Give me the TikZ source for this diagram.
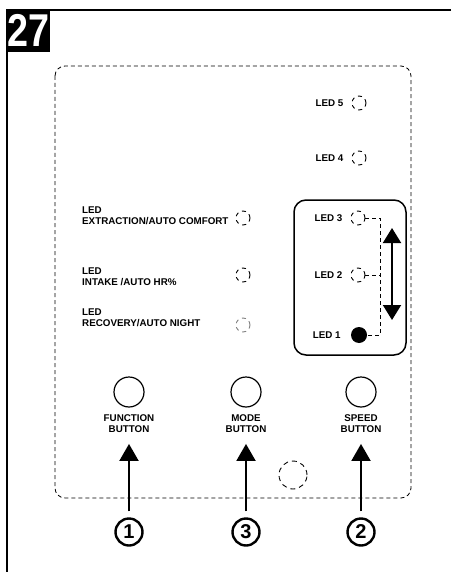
\documentclass[tikz,border=0pt]{standalone}
\usepackage{fontspec}
\setmainfont{Liberation Sans}
\usetikzlibrary{shapes,arrows,arrows.meta,positioning}

\begin{document}
\begin{tikzpicture}[x=1pt,y=-1pt,
	lbl/.style={font=\fontsize{9.8}{11}\selectfont\bfseries, inner sep=0pt},
	led/.style={shape=circle, draw, dash pattern=on 4pt off 4pt, line width=0.9pt, minimum size=14pt, inner sep=0pt},
	btn/.style={shape=circle, draw, line width=1.2pt, minimum size=30pt, inner sep=0pt},
	num/.style={shape=circle, draw, line width=2.4pt, minimum size=27pt, inner sep=0pt, font=\fontsize{20}{20}\selectfont\bfseries},
	push/.style={-{Triangle[width=19pt,length=17pt]}, line width=2pt}]
	\useasboundingbox (0,0) rectangle (451,572);
	
	% frame and figure number
	\draw[line width=2pt] (451,10) -- (7,10) -- (7,572);
	\node[fill=black, text=white, anchor=north west, inner sep=0pt, minimum width=44pt, minimum height=43pt, font=\fontsize{46}{46}\selectfont\bfseries] (fig) at (6,9) {\scalebox{0.82}[1]{27}};
	
	% panel
	\draw[dash pattern=on 4pt off 3pt, line width=0.8pt, rounded corners=10pt] (55,66) rectangle (411,498);
	
	% speed leds
	\node[led] (led5) at (359,103) {};
	\node[led] (led4) at (359,158) {};
	\node[led] (led3) at (358,218) {};
	\node[led] (led2) at (358,275) {};
	\node[shape=circle, fill=black, minimum size=16pt, inner sep=0pt] (led1) at (359,335) {};
	\node[lbl, left=8pt of led5] (l5) {LED 5};
	\node[lbl, left=8pt of led4] (l4) {LED 4};
	\node[lbl, left=8pt of led3] (l3) {LED 3};
	\node[lbl, left=8pt of led2] (l2) {LED 2};
	\node[lbl, left=10pt of led1] (l1) {LED 1};
	
	\draw[line width=1.5pt, rounded corners=12pt] (294,200) rectangle (406,355);
	\coordinate (b3) at (380,218);
	\coordinate (b1) at (380,335);
	\draw[dash pattern=on 4pt off 3pt, line width=0.8pt] (led3) -- (b3) -- (b1) -- (led1);
	\draw[dash pattern=on 4pt off 3pt, line width=0.8pt] (led2) -- (b3 |- led2);
	\coordinate (up) at (392,228);
	\coordinate (dn) at (392,320);
	\draw[{Triangle[width=18pt,length=15pt]}-{Triangle[width=18pt,length=15pt]}, line width=2pt] (up) -- (dn);
	
	% function leds
	\node[led] (ext) at (243,218) {};
	\node[led] (int) at (243,275) {};
	\node[led, draw=gray] (rec) at (243,325) {};
	\node[lbl, align=left, anchor=west] (extlbl) at (82,216) {LED\\EXTRACTION/AUTO COMFORT};
	\node[lbl, align=left, anchor=west] (intlbl) at (82,277) {LED\\INTAKE /AUTO HR\%};
	\node[lbl, align=left, anchor=west] (reclbl) at (82,318) {LED\\RECOVERY/AUTO NIGHT};
	
	% buttons
	\node[btn] (fbtn) at (129,392) {};
	\node[btn] (mbtn) at (246,392) {};
	\node[btn] (sbtn) at (361,392) {};
	\node[lbl, align=center, below=7pt of fbtn] (flbl) {FUNCTION\\BUTTON};
	\node[lbl, align=center, below=7pt of mbtn] (mlbl) {MODE\\BUTTON};
	\node[lbl, align=center, below=7pt of sbtn] (slbl) {SPEED\\BUTTON};
	
	\node[led, minimum size=28pt, dash pattern=on 5pt off 4pt] (spare) at (293,475) {};
	
	% numbers
	\node[num] (n1) at (129,532) {1};
	\node[num] (n3) at (246,532) {3};
	\node[num] (n2) at (361,532) {2};
	
	\draw[push, shorten <=6pt, shorten >=11pt] (n1) -- (flbl);
	\draw[push, shorten <=6pt, shorten >=11pt] (n3) -- (mlbl);
	\draw[push, shorten <=6pt, shorten >=11pt] (n2) -- (slbl);
\end{tikzpicture}
\end{document}
